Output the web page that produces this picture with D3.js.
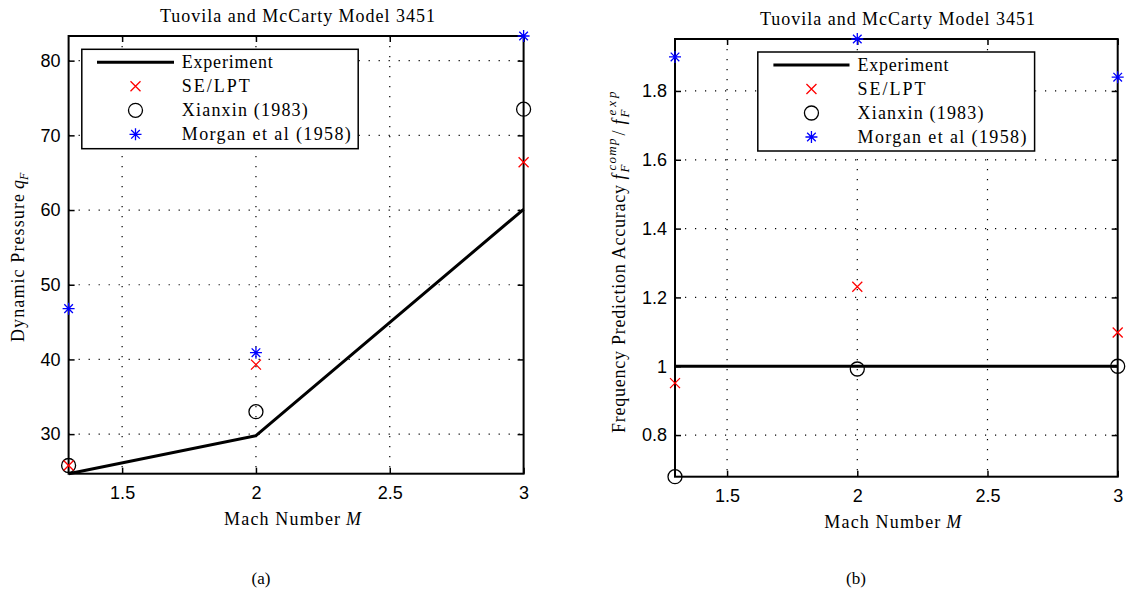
<!DOCTYPE html>
<html>
<head>
<meta charset="utf-8">
<script src="https://cdn.jsdelivr.net/npm/d3@7"></script>
<style>
  body { margin: 0; background: #fff; }
  svg text { fill: #000; }
  .serif { font-family: "Liberation Serif", "Times New Roman", serif; }
  .sans { font-family: "Liberation Sans", Arial, sans-serif; }
</style>
</head>
<body>
<svg class="visual" width="1129" height="594"></svg>
<script>
// Mach numbers shared by both panels
const mach = [1.3, 2, 3];
const machTicks = [1.5, 2, 2.5, 3];

// Panel (a): dynamic pressure
const expQ = [24.7, 29.8, 60.1];
const seQ = [25.8, 39.3, 66.4];
const xianQ = [25.8, 33.0, 73.5];
const morganQ = [46.8, 40.9, 83.3];
const qTicks = [30, 40, 50, 60, 70, 80];

// Panel (b): frequency prediction accuracy
const expF = [1, 1, 1];
const seF = [0.951, 1.231, 1.098];
const xianF = [0.679, 0.992, 1.0];
const morganF = [1.899, 1.951, 1.840];
const fTicks = [0.8, 1, 1.2, 1.4, 1.6, 1.8];

const legendNames = ["Experiment", "SE/LPT", "Xianxin (1983)", "Morgan et al (1958)"];

// Widths the LaTeX font takes in the original, used to stretch the serif text
const legendWidths = [91, 68, 126, 169];
const titleWidth = 275;
const xlabelWidth = 116;

const svg = d3.select(".visual");

// draws the marker shapes used by MATLAB: x, o and *
function marker(g, type, x, y) {
    if (type == "x") {
        g.append("path")
            .attr("d", `M${x-5},${y-5}L${x+5},${y+5}M${x-5},${y+5}L${x+5},${y-5}`)
            .attr("stroke", "#ff0000").attr("stroke-width", 1.3).attr("fill", "none");
    } else if (type == "o") {
        g.append("circle").attr("cx", x).attr("cy", y).attr("r", 7)
            .attr("stroke", "#000").attr("stroke-width", 1.3).attr("fill", "none");
    } else {
        const a = 6, b = 4.3;
        g.append("path")
            .attr("d", `M${x-a},${y}L${x+a},${y}M${x},${y-a}L${x},${y+a}M${x-b},${y-b}L${x+b},${y+b}M${x-b},${y+b}L${x+b},${y-b}`)
            .attr("stroke", "#0000ff").attr("stroke-width", 1.3).attr("fill", "none");
    }
}

// serif text piece, optionally stretched to a width
function stext(g, x, y, str, size, italic, len) {
    const t = g.append("text").attr("class", "serif").attr("x", x).attr("y", y)
        .style("font-size", size + "px").text(str);
    if (italic) t.style("font-style", "italic");
    if (len) t.attr("textLength", len).attr("lengthAdjust", "spacing");
    return t;
}

function drawPanel(cfg) {
    const g = svg.append("g");
    const x = d3.scaleLinear().domain([mach[0], mach[mach.length - 1]]).range([cfg.left, cfg.right]);
    const allY = cfg.exp.concat(cfg.se, cfg.xian, cfg.morgan);
    const y = d3.scaleLinear().domain(d3.extent(allY)).range([cfg.bottom, cfg.top]);

    // dotted grid
    g.selectAll(".gx").data(machTicks.filter(t => t < 3)).join("line")
        .attr("x1", d => x(d)).attr("x2", d => x(d))
        .attr("y1", cfg.top).attr("y2", cfg.bottom)
        .attr("stroke", "#000").attr("stroke-width", 1.2).attr("stroke-dasharray", "1.2,8.8");
    g.selectAll(".gy").data(cfg.ticks).join("line")
        .attr("y1", d => y(d)).attr("y2", d => y(d))
        .attr("x1", cfg.left).attr("x2", cfg.right)
        .attr("stroke", "#000").attr("stroke-width", 1.2).attr("stroke-dasharray", "1.2,8.8");

    // axes with inner ticks on all four sides
    const fmt = d3.format("~g");
    const axB = g.append("g").attr("transform", `translate(0,${cfg.bottom})`)
        .call(d3.axisBottom(x).tickValues(machTicks).tickFormat(fmt).tickSizeInner(-6).tickSizeOuter(0).tickPadding(13));
    const axT = g.append("g").attr("transform", `translate(0,${cfg.top})`)
        .call(d3.axisTop(x).tickValues(machTicks).tickFormat("").tickSizeInner(-6).tickSizeOuter(0));
    const axL = g.append("g").attr("transform", `translate(${cfg.left},0)`)
        .call(d3.axisLeft(y).tickValues(cfg.ticks).tickFormat(fmt).tickSizeInner(-6).tickSizeOuter(0).tickPadding(8));
    const axR = g.append("g").attr("transform", `translate(${cfg.right},0)`)
        .call(d3.axisRight(y).tickValues(cfg.ticks).tickFormat("").tickSizeInner(-6).tickSizeOuter(0));
    [axB, axT, axL, axR].forEach(a => {
        a.select(".domain").remove();
        a.selectAll("line").attr("stroke", "#000").attr("stroke-width", 1.5);
        a.selectAll("text").attr("class", "sans").style("font-size", "18px").attr("fill", "#000");
    });
    g.append("rect").attr("x", cfg.left).attr("y", cfg.top)
        .attr("width", cfg.right - cfg.left).attr("height", cfg.bottom - cfg.top)
        .attr("fill", "none").attr("stroke", "#000").attr("stroke-width", 2);

    // experiment line
    const line = d3.line().x((d, i) => x(mach[i])).y(d => y(d));
    g.append("path").datum(cfg.exp).attr("d", line)
        .attr("fill", "none").attr("stroke", "#000").attr("stroke-width", 3);

    cfg.xian.forEach((v, i) => marker(g, "o", x(mach[i]), y(v)));
    cfg.se.forEach((v, i) => marker(g, "x", x(mach[i]), y(v)));
    cfg.morgan.forEach((v, i) => marker(g, "*", x(mach[i]), y(v)));

    // legend
    const L = cfg.legend;
    const lg = g.append("g");
    lg.append("rect").attr("x", L.x0).attr("y", L.y0)
        .attr("width", L.x1 - L.x0).attr("height", L.y1 - L.y0)
        .attr("fill", "#fff").attr("stroke", "#000").attr("stroke-width", 1.5);
    legendNames.forEach((name, i) => {
        const ry = L.y0 + 13 + i * 24;
        if (i == 0) {
            lg.append("line").attr("x1", L.lx0).attr("x2", L.lx1).attr("y1", ry).attr("y2", ry)
                .attr("stroke", "#000").attr("stroke-width", 3);
        } else {
            marker(lg, ["x", "o", "*"][i - 1], (L.lx0 + L.lx1) / 2, ry);
        }
        stext(lg, L.tx, ry + 6, name, 18, false, legendWidths[i]);
    });

    // title, axis labels, caption
    const cx = (cfg.left + cfg.right) / 2;
    stext(g, cfg.titleX - titleWidth / 2, cfg.top - 14, "Tuovila and McCarty Model 3451", 18, false, titleWidth);
    stext(g, cx - 72, cfg.bottom + 51, "Mach Number", 18, false, xlabelWidth);
    stext(g, cx + 50, cfg.bottom + 51, "M", 18, true);
    stext(g, cfg.captionX, 584, cfg.caption, 17).attr("text-anchor", "middle");

    const yl = g.append("g")
        .attr("transform", `translate(${cfg.ylabelX},${cfg.ylabelY}) rotate(-90)`);
    cfg.ylabel(yl);
}

drawPanel({
    left: 68.6, right: 523.6, top: 36, bottom: 473.7,
    exp: expQ, se: seQ, xian: xianQ, morgan: morganQ, ticks: qTicks,
    legend: {x0: 81.8, x1: 358.2, y0: 49.3, y1: 148.7, lx0: 97, lx1: 174, tx: 181.8},
    titleX: 297.5, captionX: 261, caption: "(a)", ylabelX: 24, ylabelY: 256,
    ylabel: t => {
        stext(t, -86, 0, "Dynamic Pressure", 18, false, 148);
        stext(t, 67, 0, "q", 18, true);
        stext(t, 76, 4, "F", 12, true);
    }
});

drawPanel({
    left: 675, right: 1117.7, top: 39, bottom: 476.7,
    exp: expF, se: seF, xian: xianF, morgan: morganF, ticks: fTicks,
    legend: {x0: 757.8, x1: 1034.6, y0: 52, y1: 151, lx0: 773.4, lx1: 849.5, tx: 857.5},
    titleX: 897.4, captionX: 856, caption: "(b)", ylabelX: 625, ylabelY: 250.5,
    ylabel: t => {
        stext(t, -182.5, 0, "Frequency Prediction Accuracy", 18, false, 248);
        stext(t, 71, 0, "f", 18, true);
        stext(t, 78, 4, "F", 13, true);
        stext(t, 80, -9, "comp", 13, true, 32);
        stext(t, 115, 0, "/", 18, false);
        stext(t, 126, 0, "f", 18, true);
        stext(t, 133, 4, "F", 13, true);
        stext(t, 135, -9, "exp", 13, true, 24);
    }
});
</script>
</body>
</html>
